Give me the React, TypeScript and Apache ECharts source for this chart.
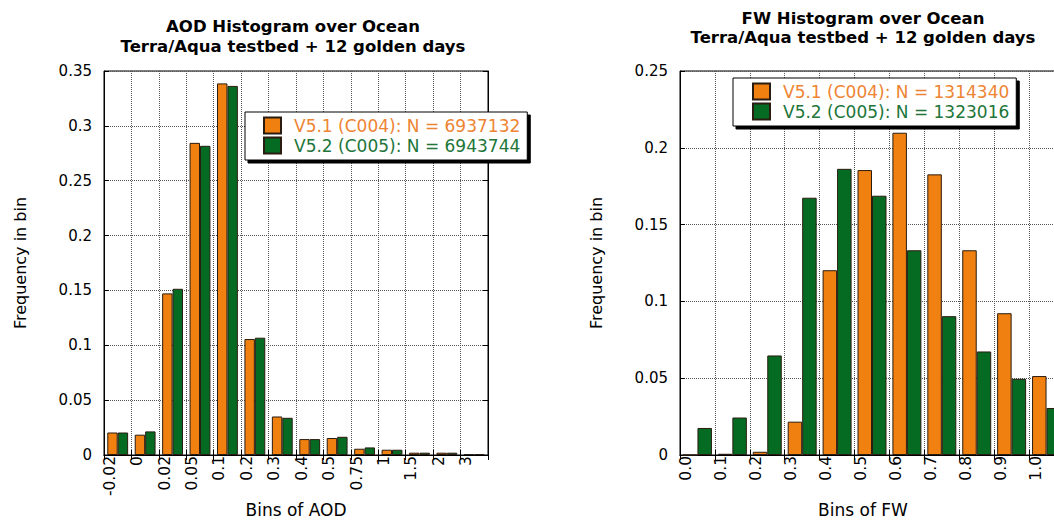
import React, { useEffect, useRef } from 'react';
import * as echarts from 'echarts';

// ---- data ----
const aodBins = ['-0.02', '0', '0.02', '0.05', '0.1', '0.2', '0.3', '0.4', '0.5', '0.75', '1', '1.5', '2', '3'];
const aodV51 = [0.0205, 0.0185, 0.1473, 0.2845, 0.3387, 0.1057, 0.0351, 0.0145, 0.0155, 0.0057, 0.0048, 0.0021, 0.0021, 0.0009];
const aodV52 = [0.0205, 0.0215, 0.1515, 0.2818, 0.3364, 0.1069, 0.0339, 0.0145, 0.0166, 0.0069, 0.0048, 0.0021, 0.0021, 0.0009];
const aodNames = ['V5.1 (C004): N = 6937132', 'V5.2 (C005): N = 6943744'];

const fwBins = ['0.0', '0.1', '0.2', '0.3', '0.4', '0.5', '0.6', '0.7', '0.8', '0.9', '1.0'];
const fwV51 = [0, 0.0008, 0.0021, 0.0217, 0.1203, 0.1855, 0.2098, 0.1827, 0.1333, 0.0923, 0.0514];
const fwV52 = [0.0176, 0.0244, 0.0648, 0.1675, 0.1863, 0.1688, 0.1333, 0.0904, 0.0674, 0.0496, 0.0306];
const fwNames = ['V5.1 (C004): N = 1314340', 'V5.2 (C005): N = 1323016'];

const aodTitle = 'AOD Histogram over Ocean\nTerra/Aqua testbed + 12 golden days';
const fwTitle = 'FW Histogram over Ocean\nTerra/Aqua testbed + 12 golden days';

// ---- style ----
const FONT = 'DejaVu Sans';
const ORANGE = '#F0800F';
const GREEN = '#056B22';
const ORANGE_T = '#EE8433';
const GREEN_T = '#217539';
const BORDER = '#2a1c10';
const GRIDC = '#555';

function bottomAxis(gridIndex: number, data: string[], name: string, pad: number, nameShift: number) {
  return {
    type: 'category', gridIndex, data, position: 'bottom', boundaryGap: true,
    axisLine: { show: true, lineStyle: { color: '#000', width: 1 } },
    axisTick: { show: true, inside: true, length: 5, interval: 0, lineStyle: { color: '#000' } },
    axisLabel: {
      interval: 0, rotate: 90, margin: 1, fontFamily: FONT, fontSize: 15.5, color: '#000',
      verticalAlign: 'bottom', padding: [0, 0, pad, 0],
    },
    splitLine: { show: true, interval: 0, lineStyle: { color: GRIDC, type: [1, 1], width: 1 } },
    name, nameLocation: 'middle', nameGap: 46, nameMoveOverlap: false,
    nameTextStyle: { fontFamily: FONT, fontSize: 17, lineHeight: 17, color: '#000', padding: [0, nameShift, 0, 0] },
  };
}
function topAxis(gridIndex: number, data: string[]) {
  return {
    type: 'category', gridIndex, data, position: 'top', boundaryGap: true,
    axisLine: { show: true, lineStyle: { color: '#000', width: 1 } },
    axisTick: { show: true, inside: true, length: 5, interval: 0, lineStyle: { color: '#000' } },
    axisLabel: { show: false },
    splitLine: { show: false },
  };
}
function leftAxis(gridIndex: number, max: number) {
  return {
    type: 'value', gridIndex, min: 0, max, interval: 0.05, position: 'left',
    axisLine: { show: true, lineStyle: { color: '#000' } },
    axisTick: { show: true, inside: true, length: 5, lineStyle: { color: '#000' } },
    axisLabel: { fontFamily: FONT, fontSize: 15, color: '#000', margin: 12 },
    splitLine: { show: true, lineStyle: { color: GRIDC, type: [1, 1], width: 1 } },
    name: 'Frequency in bin', nameLocation: 'middle', nameGap: 76, nameRotate: 90, nameMoveOverlap: false,
    nameTextStyle: { fontFamily: FONT, fontSize: 16, color: '#000' },
  };
}
function rightAxis(gridIndex: number, max: number) {
  return {
    type: 'value', gridIndex, min: 0, max, interval: 0.05, position: 'right',
    axisLine: { show: true, lineStyle: { color: '#000' } },
    axisTick: { show: true, inside: true, length: 5, lineStyle: { color: '#000' } },
    axisLabel: { show: false },
    splitLine: { show: false },
  };
}
function legendFor(names: string[], left: number, top: number, padLeft: number) {
  return {
    data: [
      { name: names[0], textStyle: { color: ORANGE_T } },
      { name: names[1], textStyle: { color: GREEN_T } },
    ],
    left, top, orient: 'vertical', icon: 'rect', itemWidth: 17, itemHeight: 16, itemGap: 1,
    padding: [4, 7, 5, padLeft], backgroundColor: '#fff', borderColor: '#000', borderWidth: 1,
    shadowColor: '#000', shadowBlur: 0, shadowOffsetX: 3, shadowOffsetY: 3,
    selectedMode: false, z: 10,
    textStyle: { fontFamily: FONT, fontSize: 17, lineHeight: 19, padding: [0, 0, 0, 8] },
  };
}
function barSeries(name: string, x: number, y: number, data: number[], color: string, gap: string) {
  return {
    type: 'bar', name, xAxisIndex: x, yAxisIndex: y, data,
    itemStyle: { color, borderColor: BORDER, borderWidth: 1 },
    barGap: '0%', barCategoryGap: gap,
  };
}

export default function App() {
  const ref = useRef<HTMLDivElement>(null);
  useEffect(() => {
    if (!ref.current) return;
    const chart = echarts.init(ref.current, null, { renderer: 'svg' });
    const option: any = {
      animation: false,
      backgroundColor: '#fff',
      textStyle: { fontFamily: FONT },
      title: [
        {
          text: aodTitle, left: 293, top: 16, textAlign: 'center', padding: 0,
          textStyle: { fontFamily: FONT, fontWeight: 'bold', fontSize: 16.5, lineHeight: 20, color: '#000' },
        },
        {
          text: fwTitle, left: 863, top: 9, textAlign: 'center', padding: 0,
          textStyle: { fontFamily: FONT, fontWeight: 'bold', fontSize: 16.5, lineHeight: 19, color: '#000' },
        },
      ],
      legend: [legendFor(aodNames, 245, 112, 18), legendFor(fwNames, 733, 78, 19)],
      grid: [
        { left: 104, top: 71, width: 384, height: 384, show: true, borderColor: '#000', borderWidth: 1, containLabel: false, outerBoundsMode: 'none' },
        { left: 680, top: 71, width: 384, height: 384, show: true, borderColor: '#000', borderWidth: 1, containLabel: false, outerBoundsMode: 'none' },
      ],
      xAxis: [
        bottomAxis(0, aodBins, 'Bins of AOD', 0, 0),
        topAxis(0, aodBins),
        bottomAxis(1, fwBins, 'Bins of FW', 3, 18),
        topAxis(1, fwBins),
      ],
      yAxis: [leftAxis(0, 0.35), rightAxis(0, 0.35), leftAxis(1, 0.25), rightAxis(1, 0.25)],
      series: [
        barSeries(aodNames[0], 0, 0, aodV51, ORANGE, '24%'),
        barSeries(aodNames[1], 0, 0, aodV52, GREEN, '24%'),
        barSeries(fwNames[0], 2, 2, fwV51, ORANGE, '17%'),
        barSeries(fwNames[1], 2, 2, fwV52, GREEN, '17%'),
      ],
    };
    chart.setOption(option);
    return () => chart.dispose();
  }, []);
  return <div ref={ref} style={{ position: 'absolute', left: 0, top: 0, width: 1054, height: 520 }} />;
}
